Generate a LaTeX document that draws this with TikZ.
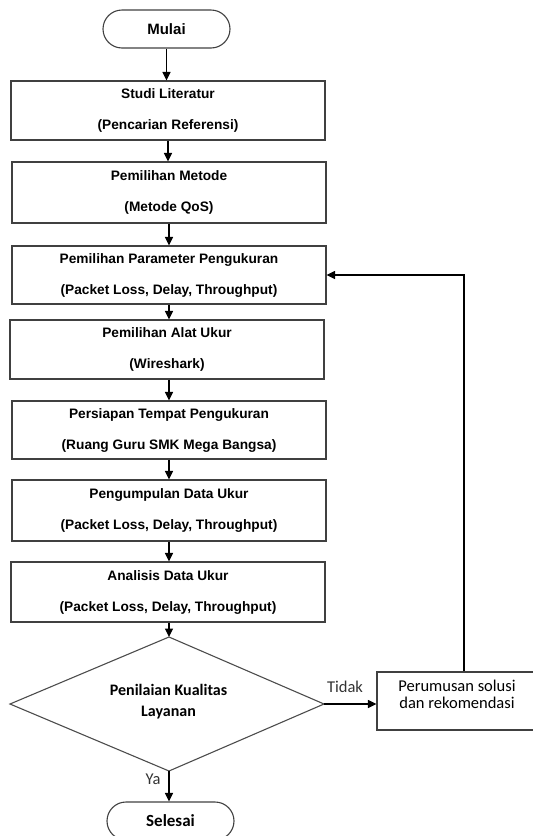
\documentclass[tikz,border=0pt]{standalone}
\usepackage{fontspec}
\setmainfont{Liberation Sans}
\newfontfamily\calfont{Carlito}
\usetikzlibrary{arrows.meta}
\begin{document}
\begin{tikzpicture}[x=1pt,y=-1pt,
  boxstyle/.style={draw=black!75,line width=1.1pt,rectangle,minimum width=314pt,inner sep=0pt,align=center,
    font=\fontsize{13.7}{31}\selectfont\bfseries},
  term/.style={draw=black!75,line width=1.1pt,rounded corners=19pt,minimum width=127pt,minimum height=38pt,inner sep=0pt},
  arr/.style={draw=black,line width=1.1pt,-{Triangle[length=8.5pt,width=8pt]}},
  lbl/.style={font=\calfont\fontsize{16.5}{19}\selectfont,text=black!80,inner sep=0pt}]
\useasboundingbox (0,0) rectangle (533,836);
\node[term,font=\fontsize{15}{18}\selectfont\bfseries] (start) at (166.5,29) {Mulai};
\node[boxstyle,minimum height=59pt] (b1) at (168,110.5) {Studi Literatur\\(Pencarian Referensi)};
\node[boxstyle,minimum height=61pt] (b2) at (169,192.5) {Pemilihan Metode\\(Metode QoS)};
\node[boxstyle,minimum height=58pt] (b3) at (169,275) {Pemilihan Parameter Pengukuran\\(Packet Loss, Delay, Throughput)};
\node[boxstyle,minimum height=59pt] (b4) at (167,349.5) {Pemilihan Alat Ukur\\(Wireshark)};
\node[boxstyle,minimum height=58pt] (b5) at (169,430) {Persiapan Tempat Pengukuran\\(Ruang Guru SMK Mega Bangsa)};
\node[boxstyle,minimum height=61pt] (b6) at (169,510.5) {Pengumpulan Data Ukur\\(Packet Loss, Delay, Throughput)};
\node[boxstyle,minimum height=60pt] (b7) at (168,592) {Analisis Data Ukur\\(Packet Loss, Delay, Throughput)};
% decision
\coordinate (dT) at (169,637);
\coordinate (dL) at (10,704);
\coordinate (dR) at (324,704);
\coordinate (dB) at (169,771);
\draw[draw=black!70,line width=1.1pt] (dT) -- (dR) -- (dB) -- (dL) -- cycle;
\node[align=center,inner sep=0pt,font=\calfont\fontsize{16}{21}\selectfont\bfseries] (dec) at (168.5,702) {Penilaian Kualitas\\Layanan};
% solution box (runs past the right edge)
\node[draw=black!75,line width=1.1pt,rectangle,minimum width=175pt,minimum height=58pt,inner sep=0pt] (sol) at (464.5,701) {};
\node[align=center,inner sep=0pt,font=\calfont\fontsize{16.5}{17.5}\selectfont] (soltxt) at (457,694.5) {Perumusan solusi\\dan rekomendasi};
\node[term,font=\calfont\fontsize{17}{20}\selectfont\bfseries] (end) at (170.5,821) {Selesai};
% connectors
\draw[arr] (start.south) -- (start.south |- b1.north);
\draw[arr] (b1.south) -- (b1.south |- b2.north);
\draw[arr] (b2.south) -- (b2.south |- b3.north);
\draw[arr] (b3.south) -- (b3.south |- b4.north);
\draw[arr] (b4.south -| b5.south) -- (b5.north);
\draw[arr] (b5.south) -- (b6.north);
\draw[arr] (b6.south) -- (b6.south |- b7.north);
\draw[arr] (b7.south -| dT) -- (dT);
\draw[arr] (dR) -- (dR -| sol.west);
\draw[arr] (dB) -- (dB |- end.north);
\coordinate (lx) at (464,0);
\draw[arr] (sol.north -| lx) |- (b3.east);
\node[lbl] (tidak) at (345,687) {Tidak};
\node[lbl] (ya) at (153,779) {Ya};
\end{tikzpicture}
\end{document}
